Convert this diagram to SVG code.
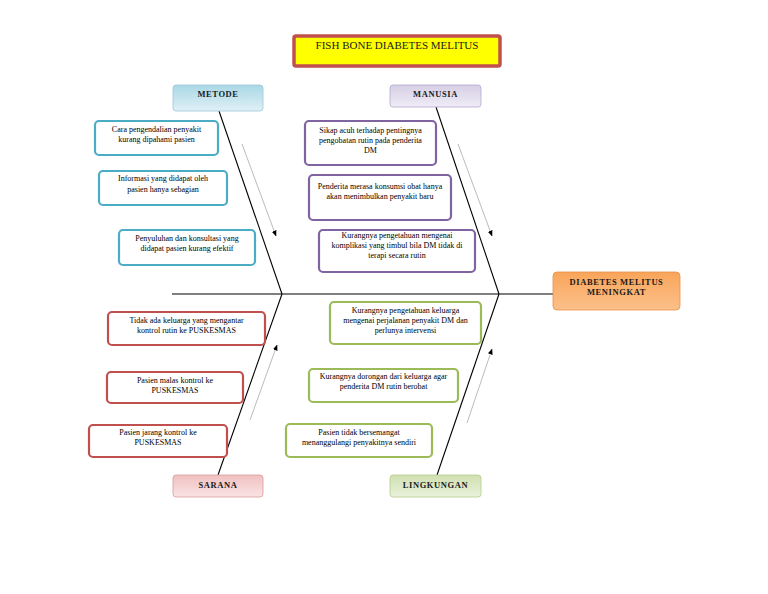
<svg xmlns="http://www.w3.org/2000/svg" width="768" height="594" viewBox="0 0 768 594">
<defs>
<linearGradient id="gBlue" x1="0" y1="0" x2="0" y2="1"><stop offset="0" stop-color="#a9d8e6"/><stop offset="1" stop-color="#dff0f6"/></linearGradient>
<linearGradient id="gPurple" x1="0" y1="0" x2="0" y2="1"><stop offset="0" stop-color="#d6cfe6"/><stop offset="1" stop-color="#f0ecf6"/></linearGradient>
<linearGradient id="gRed" x1="0" y1="0" x2="0" y2="1"><stop offset="0" stop-color="#f0c0c0"/><stop offset="1" stop-color="#fae4e4"/></linearGradient>
<linearGradient id="gGreen" x1="0" y1="0" x2="0" y2="1"><stop offset="0" stop-color="#cfe0b0"/><stop offset="1" stop-color="#eaf2dc"/></linearGradient>
<linearGradient id="gOrange" x1="0" y1="0" x2="0" y2="1"><stop offset="0" stop-color="#f9a55a"/><stop offset="1" stop-color="#fcc08a"/></linearGradient>
<marker id="ah" viewBox="0 0 10 10" refX="9" refY="5" markerWidth="6" markerHeight="6" orient="auto" markerUnits="userSpaceOnUse"><path d="M0,1 L10,5 L0,9 z" fill="#000"/></marker>
</defs>
<style>
.t{font-family:"Liberation Serif","Times New Roman",serif;font-size:8px;fill:#000;text-anchor:middle}
.lb{font-family:"Liberation Serif","Times New Roman",serif;font-size:8.5px;font-weight:bold;fill:#1a1a1a;text-anchor:middle;letter-spacing:0.6px}
.bx{fill:#fff;stroke-width:2.2}
.b1{stroke:#4bacc6}.b2{stroke:#8064a2}.b3{stroke:#c0504d}.b4{stroke:#9bbb59}
.bone{stroke:#000;stroke-width:1.1;fill:none}
.ar{stroke:#aaa;stroke-width:0.8;fill:none}
</style>
<rect width="768" height="594" fill="#fff"/>
<g id="title">
<rect x="294" y="36" width="206" height="30" rx="2" fill="#ffff00" stroke="#c0504d" stroke-width="3.5"/>
<text x="397" y="49" style="font-family:'Liberation Serif','Times New Roman',serif;font-size:11px;fill:#1a1a1a;text-anchor:middle">FISH BONE DIABETES MELITUS</text>
</g>
<g id="connectors">
<line class="bone" x1="172" y1="294" x2="553" y2="294" stroke="#555"/>
<line class="bone" x1="219" y1="111" x2="282" y2="294"/>
<line class="bone" x1="436" y1="107" x2="499" y2="294"/>
<line class="bone" x1="282" y1="294" x2="218" y2="475"/>
<line class="bone" x1="499" y1="294" x2="437" y2="475"/>
<line class="ar" x1="242" y1="144" x2="276" y2="236" marker-end="url(#ah)"/>
<line class="ar" x1="458" y1="144" x2="492" y2="236" marker-end="url(#ah)"/>
<line class="ar" x1="250" y1="420" x2="277" y2="345" marker-end="url(#ah)"/>
<line class="ar" x1="467" y1="423" x2="492" y2="349" marker-end="url(#ah)"/>
</g>
<g id="metode"><rect x="173" y="85" width="90" height="26" rx="3" fill="url(#gBlue)" stroke="#9cc9d8" stroke-width="0.8"/><text class="lb" x="218" y="97">METODE</text></g>
<g id="manusia"><rect x="390" y="85" width="91" height="22" rx="3" fill="url(#gPurple)" stroke="#b3a8cc" stroke-width="0.8"/><text class="lb" x="435.5" y="97">MANUSIA</text></g>
<g id="sarana"><rect x="173" y="475" width="90" height="22" rx="3" fill="url(#gRed)" stroke="#d99a9a" stroke-width="0.8"/><text class="lb" x="218" y="488">SARANA</text></g>
<g id="lingkungan"><rect x="390" y="475" width="91" height="22" rx="3" fill="url(#gGreen)" stroke="#b5cc8e" stroke-width="0.8"/><text class="lb" x="435.5" y="488">LINGKUNGAN</text></g>
<g id="effect"><rect x="553" y="272" width="127" height="38" rx="4" fill="url(#gOrange)" stroke="#e8914a" stroke-width="0.8"/><text class="lb" x="616.5" y="285">DIABETES MELITUS</text><text class="lb" x="616.5" y="295">MENINGKAT</text></g>
<g id="m1"><rect class="bx b1" x="95" y="121" width="123" height="34" rx="4"/><text class="t" x="156.5" y="132">Cara pengendalian penyakit</text><text class="t" x="156.5" y="142">kurang dipahami pasien</text></g>
<g id="m2"><rect class="bx b1" x="99" y="171" width="128" height="34" rx="4"/><text class="t" x="163" y="181">Informasi yang didapat oleh</text><text class="t" x="163" y="192">pasien hanya sebagian</text></g>
<g id="m3"><rect class="bx b1" x="119" y="230" width="136" height="35" rx="4"/><text class="t" x="187" y="241">Penyuluhan dan konsultasi yang</text><text class="t" x="187" y="251">didapat pasien kurang efektif</text></g>
<g id="p1"><rect class="bx b2" x="305" y="121" width="131" height="44" rx="4"/><text class="t" x="370.5" y="133">Sikap acuh terhadap pentingnya</text><text class="t" x="370.5" y="143">pengobatan rutin pada penderita</text><text class="t" x="370.5" y="153">DM</text></g>
<g id="p2"><rect class="bx b2" x="309" y="175" width="142" height="45" rx="4"/><text class="t" x="380" y="189">Penderita merasa konsumsi obat hanya</text><text class="t" x="380" y="199">akan menimbulkan penyakit baru</text></g>
<g id="p3"><rect class="bx b2" x="319" y="230" width="156" height="42" rx="4"/><text class="t" x="397" y="238">Kurangnya pengetahuan mengenai</text><text class="t" x="397" y="248">komplikasi yang timbul bila DM tidak di</text><text class="t" x="397" y="258">terapi secara rutin</text></g>
<g id="s1"><rect class="bx b3" x="108" y="312" width="157" height="33" rx="4"/><text class="t" x="186.5" y="323">Tidak ada keluarga yang mengantar</text><text class="t" x="186.5" y="333">kontrol rutin ke PUSKESMAS</text></g>
<g id="s2"><rect class="bx b3" x="107" y="372" width="136" height="31" rx="4"/><text class="t" x="175" y="383">Pasien malas kontrol ke</text><text class="t" x="175" y="393">PUSKESMAS</text></g>
<g id="s3"><rect class="bx b3" x="89" y="425" width="138" height="32" rx="4"/><text class="t" x="158" y="435">Pasien jarang kontrol ke</text><text class="t" x="158" y="445">PUSKESMAS</text></g>
<g id="l1"><rect class="bx b4" x="330" y="302" width="151" height="42" rx="4"/><text class="t" x="405.5" y="313">Kurangnya pengetahuan keluarga</text><text class="t" x="405.5" y="323">mengenai perjalanan penyakit DM dan</text><text class="t" x="405.5" y="333">perlunya intervensi</text></g>
<g id="l2"><rect class="bx b4" x="309" y="369" width="149" height="33" rx="4"/><text class="t" x="383.5" y="379">Kurangnya dorongan dari  keluarga agar</text><text class="t" x="383.5" y="389">penderita DM rutin berobat</text></g>
<g id="l3"><rect class="bx b4" x="286" y="424" width="146" height="33" rx="4"/><text class="t" x="359" y="435">Pasien tidak bersemangat</text><text class="t" x="359" y="445">menanggulangi penyakitnya sendiri</text></g>
</svg>
